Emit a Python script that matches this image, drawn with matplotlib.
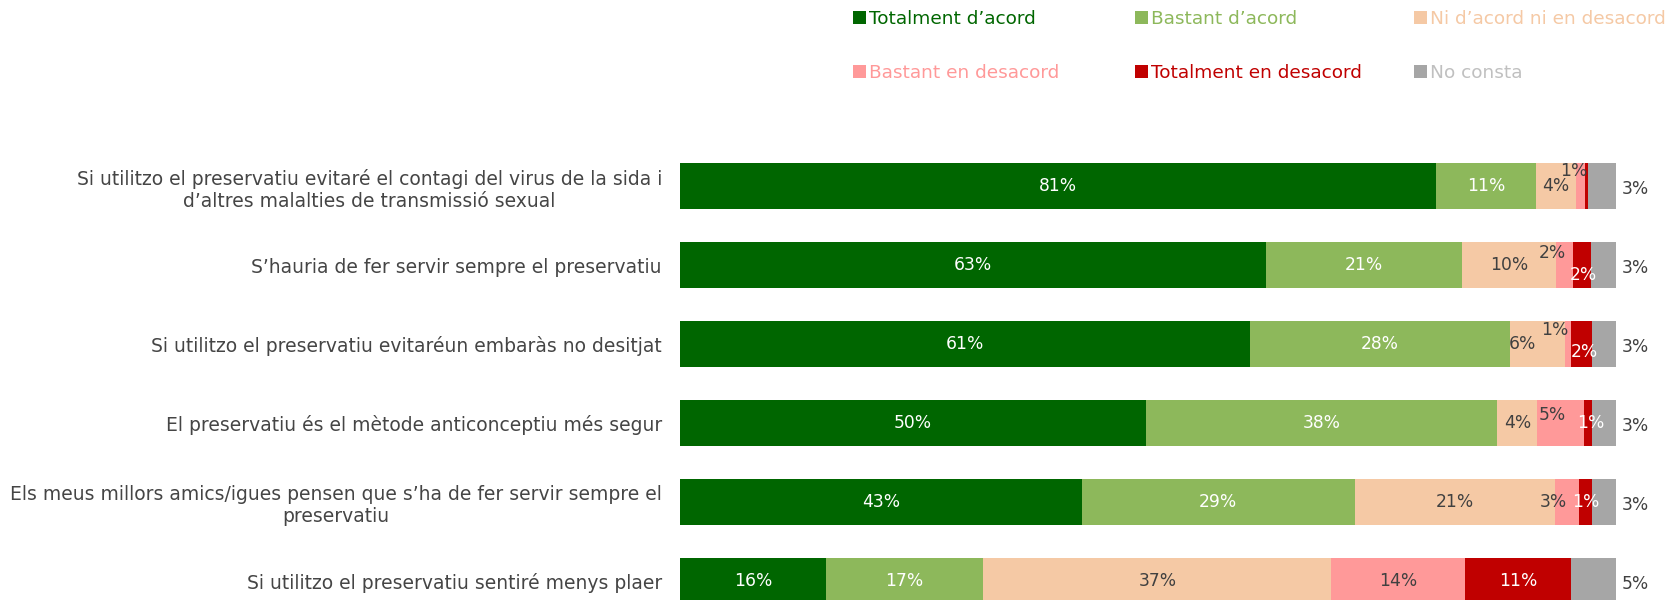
import matplotlib
matplotlib.use("Agg")
import matplotlib.pyplot as plt
from matplotlib.patches import Patch
import numpy as np

# dades (percentatges per fila, en ordre de dalt a baix)
categories = [
    "Si utilitzo el preservatiu evitaré el contagi del virus de la sida i\nd’altres malalties de transmissió sexual",
    "S’hauria de fer servir sempre el preservatiu",
    "Si utilitzo el preservatiu evitaréun embaràs no desitjat",
    "El preservatiu és el mètode anticonceptiu més segur",
    "Els meus millors amics/igues pensen que s’ha de fer servir sempre el\npreservatiu",
    "Si utilitzo el preservatiu sentiré menys plaer",
]
series_names = ["Totalment d’acord", "Bastant d’acord", "Ni d’acord ni en desacord",
                "Bastant en desacord", "Totalment en desacord", "No consta"]
totalment_acord = [80.8, 62.6, 60.9, 49.8, 42.9, 15.6]
bastant_acord = [10.7, 21.0, 27.8, 37.5, 29.2, 16.8]
ni_ni = [4.2, 10.0, 5.8, 4.3, 21.4, 37.2]
bastant_desacord = [1.0, 1.8, 0.7, 5.0, 2.6, 14.3]
totalment_desacord = [0.3, 1.9, 2.2, 0.8, 1.3, 11.3]
no_consta = [3.0, 2.7, 2.6, 2.6, 2.6, 4.8]

series = [totalment_acord, bastant_acord, ni_ni, bastant_desacord, totalment_desacord, no_consta]
colors = ["#006600", "#8DB85B", "#F5C9A5", "#FF9999", "#C00000", "#A6A6A6"]
legend_text_colors = ["#006600", "#8DB85B", "#F5C9A5", "#FF9999", "#C00000", "#C0C0C0"]
value_text_colors = ["white", "white", "#404040", "#404040", "white", "#404040"]

# desplaçaments manuals d'etiquetes petites (fila, serie) -> (dx, dy) en punts
nudges = {
    (0, 3): (-5, 11),
    (1, 3): (-9, 9), (1, 4): (1, -7),
    (2, 3): (-9, 10), (2, 2): (-11, 0), (2, 4): (2, -6),
    (3, 3): (-6, 6), (3, 4): (2, 0),
    (4, 3): (-10, 0),
}

W, H = 1670, 600
fig = plt.figure(figsize=(W / 100, H / 100), dpi=100)
ax = fig.add_axes([680 / W, 0, (1616 - 680) / W, (H - 107) / H])

y = np.arange(len(categories))
left = np.zeros(len(categories))
for j, (vals, col) in enumerate(zip(series, colors)):
    vals = np.array(vals)
    bars = ax.barh(y, vals, left=left, height=0.58, color=col, edgecolor="none")
    for i, (v, b) in enumerate(zip(vals, bars)):
        lab = f"{round(v)}%"
        if round(v) < 1:
            continue
        if j == 5:
            ax.annotate(lab, (100, i), xytext=(4, -2), textcoords="offset points",
                        ha="left", va="center", fontsize=12.3, color="#404040")
            continue
        dx, dy = nudges.get((i, j), (0, 0))
        ax.annotate(lab, (left[i] + v / 2, i), xytext=(dx, dy), textcoords="offset points",
                    ha="center", va="center", fontsize=12.3, color=value_text_colors[j])
    left += vals

ax.set_xlim(0, 100)
ax.set_ylim(5.24, -1)
ax.set_yticks(y)
ax.set_yticklabels(categories, fontsize=13.5, color="#454545", multialignment="center")
ax.tick_params(axis="y", length=0, pad=13)
ax.set_xticks([])
for s in ax.spines.values():
    s.set_visible(False)

# llegenda: tres columnes de dues entrades (columnes d'amplada fixa com a l'original)
handles = [Patch(facecolor=c, edgecolor="none") for c in colors]
col_x = [851, 1133, 1412]
for c in range(3):
    idx = [c, c + 3]
    fig.legend([handles[k] for k in idx], [series_names[k] for k in idx],
               labelcolor=[legend_text_colors[k] for k in idx],
               loc="upper left", bbox_to_anchor=(col_x[c] / W, 1 - 8 / H),
               frameon=False, fontsize=13.3, handlelength=0.7, handleheight=0.7,
               handletextpad=0.15, labelspacing=1.95,
               borderaxespad=0, borderpad=0.1)

fig.savefig("out.png", dpi=100)
